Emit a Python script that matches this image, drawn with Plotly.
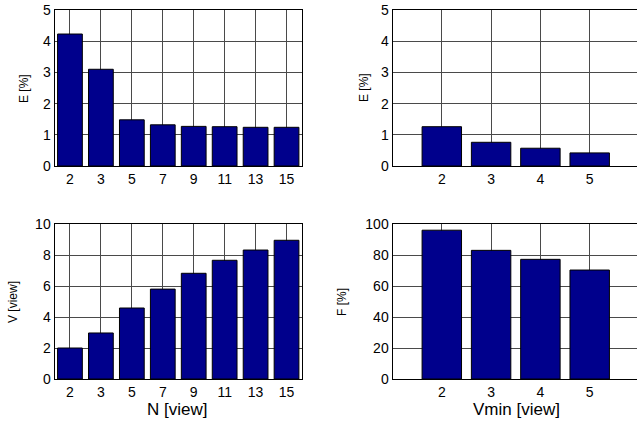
import plotly.graph_objects as go

# Data
n_labels = ["2", "3", "5", "7", "9", "11", "13", "15"]
e_by_n = [4.23, 3.10, 1.48, 1.32, 1.27, 1.26, 1.24, 1.24]
v_by_n = [2.0, 2.97, 4.58, 5.8, 6.82, 7.66, 8.32, 8.95]

vmin_vals = [2, 3, 4, 5]
e_by_vmin = [1.26, 0.76, 0.57, 0.42]
f_by_vmin = [96.0, 83.0, 77.2, 70.3]

W, H = 637, 424
BAR = "#00008C"
GRID = "#4a4a4a"
FONT = "Liberation Sans, Arial, Helvetica, sans-serif"

fig = go.Figure()

def bar(x, y, xa, ya):
    fig.add_trace(go.Bar(x=x, y=y, xaxis=xa, yaxis=ya, width=0.8,
                         marker=dict(color=BAR, line=dict(color="black", width=1)),
                         showlegend=False, hoverinfo="skip"))

bar(n_labels, e_by_n, "x", "y")
bar(vmin_vals, e_by_vmin, "x2", "y2")
bar(n_labels, v_by_n, "x3", "y3")
bar(vmin_vals, f_by_vmin, "x4", "y4")

def px_x(a, b):
    return [a / W, min(b / W, 1.0)]

def px_y(top, bot):
    return [1 - bot / H, 1 - top / H]

tickfont = dict(family=FONT, size=14, color="black")
common_x = dict(showline=True, linecolor="black", linewidth=1, mirror=True,
                showgrid=True, gridcolor=GRID, gridwidth=1, ticks="",
                tickfont=tickfont, zeroline=False, fixedrange=True, automargin=False)
common_y = dict(showline=True, linecolor="black", linewidth=1,
                showgrid=True, gridcolor=GRID, gridwidth=1, ticks="",
                tickfont=tickfont, zeroline=False, fixedrange=True, automargin=False)

xl = px_x(54.5, 302)
xr = px_x(392.5, 637)
yt = px_y(10, 166)
yb = px_y(224, 379)
r_span = 1 + (637 - 392.5) / 49.3

fig.update_layout(
    width=W, height=H, margin=dict(l=0, r=0, t=0, b=0, autoexpand=False),
    paper_bgcolor="white", plot_bgcolor="white", bargap=0.2,
    font=dict(family=FONT, color="black"),
    xaxis=dict(common_x, domain=xl, anchor="y", type="category", range=[-0.5, 7.5]),
    yaxis=dict(common_y, domain=yt, anchor="x", range=[0, 5], dtick=1, mirror=True),
    xaxis2=dict(common_x, domain=xr, anchor="y2", range=[1, r_span], tickvals=vmin_vals),
    yaxis2=dict(common_y, domain=yt, anchor="x2", range=[0, 5], dtick=1, mirror=False),
    xaxis3=dict(common_x, domain=xl, anchor="y3", type="category", range=[-0.5, 7.5]),
    yaxis3=dict(common_y, domain=yb, anchor="x3", range=[0, 10], dtick=2, mirror=True),
    xaxis4=dict(common_x, domain=xr, anchor="y4", range=[1, r_span], tickvals=vmin_vals),
    yaxis4=dict(common_y, domain=yb, anchor="x4", range=[0, 100], dtick=20, mirror=False),
)

def ann(text, x, y, size, angle=0):
    fig.add_annotation(text=text, x=x / W, y=1 - y / H, xref="paper", yref="paper",
                       showarrow=False, textangle=angle, xanchor="center", yanchor="middle",
                       font=dict(family=FONT, size=size, color="black"))

ann("E [%]", 24, 88, 12, -90)
ann("E [%]", 364, 88, 12, -90)
ann("V [view]", 13, 302, 12, -90)
ann("F [%]", 342, 302, 12, -90)
ann("N [view]", 177, 409, 17)
ann("Vmin [view]", 516, 409, 17)

fig.write_html("out.html", config={"displayModeBar": False, "staticPlot": True},
               post_script="document.body.style.margin='0';document.body.style.overflow='hidden';")
